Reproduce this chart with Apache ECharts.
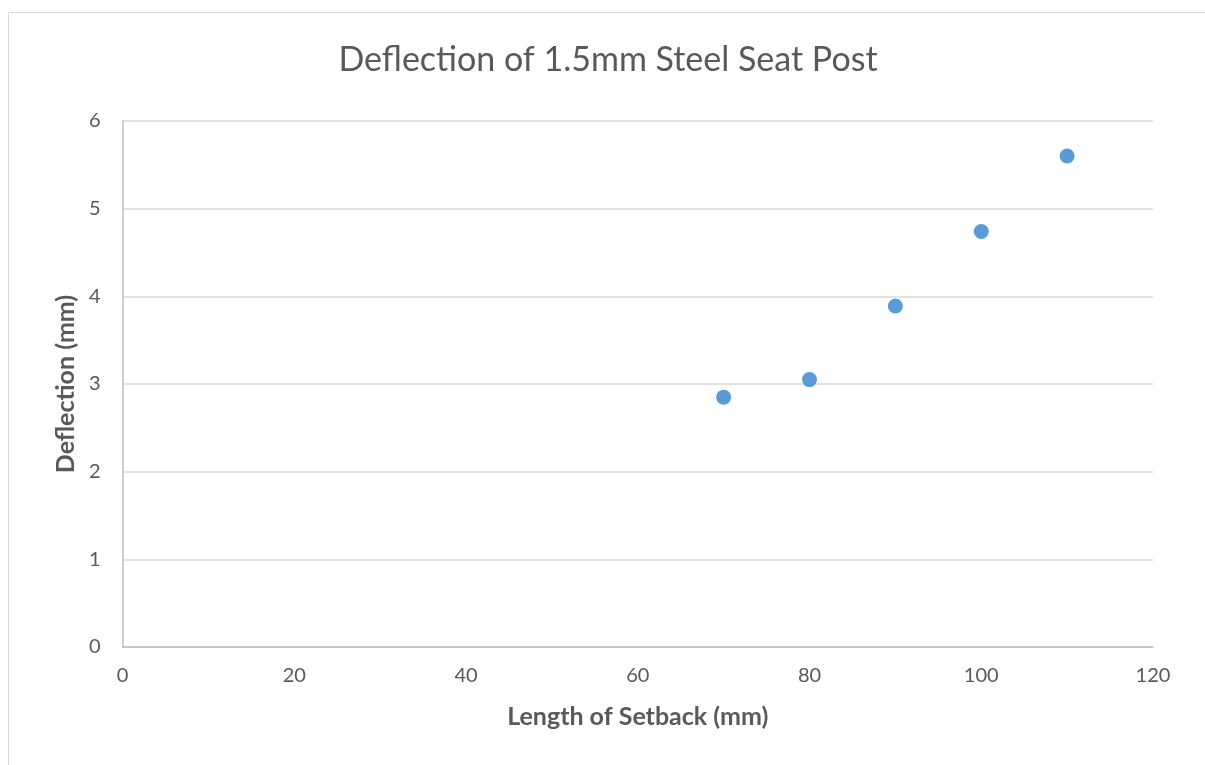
<!DOCTYPE html>
<html>
<head>
<meta charset="utf-8">
<script src="https://cdn.jsdelivr.net/npm/echarts@6/dist/echarts.min.js"></script>
<style>
html,body{margin:0;padding:0;background:#fff;}
#chart{width:1205px;height:765px;}
</style>
</head>
<body>
<div id="chart"></div>
<script>
const titleText = 'Deflection of 1.5mm Steel Seat Post';
const xAxisName = 'Length of Setback (mm)';
const yAxisName = 'Deflection (mm)';
const setbackLengths = [70, 80, 90, 100, 110];
const deflections = [2.85, 3.05, 3.89, 4.74, 5.60];

const chart = echarts.init(document.getElementById('chart'));
const font = 'Lato, "Open Sans", sans-serif';
chart.setOption({
  backgroundColor: '#ffffff',
  animation: false,
  title: {
    text: titleText,
    left: 603, top: 38, textAlign: 'center',
    textStyle: { fontFamily: font, fontSize: 34, fontWeight: 'normal', color: '#595959' }
  },
  graphic: [
    { type: 'line', shape: { x1: 8.5, y1: 12.5, x2: 1205, y2: 12.5 }, style: { stroke: '#d9d9d9', lineWidth: 1 } },
    { type: 'line', shape: { x1: 8.5, y1: 12.5, x2: 8.5, y2: 765 }, style: { stroke: '#d9d9d9', lineWidth: 1 } }
  ],
  grid: { left: 122.5, right: 52, top: 121, bottom: 118 },
  xAxis: {
    type: 'value', min: 0, max: 120, interval: 20,
    name: xAxisName, nameLocation: 'middle', nameGap: 57,
    nameTextStyle: { fontFamily: font, fontSize: 25, fontWeight: 'bold', color: '#595959' },
    axisLine: { show: true, onZero: false, lineStyle: { color: '#bfbfbf', width: 1.5 } },
    axisTick: { show: false },
    axisLabel: { fontFamily: font, fontSize: 20, color: '#595959', margin: 19 },
    splitLine: { show: false }
  },
  yAxis: {
    type: 'value', min: 0, max: 6, interval: 1,
    name: yAxisName, nameLocation: 'middle', nameGap: 43, nameRotate: 90,
    nameTextStyle: { fontFamily: font, fontSize: 25, fontWeight: 'bold', color: '#595959' },
    axisLine: { show: true, onZero: false, lineStyle: { color: '#bfbfbf', width: 1.5 } },
    axisTick: { show: false },
    axisLabel: { fontFamily: font, fontSize: 20, color: '#595959', margin: 22 },
    splitLine: { show: true, lineStyle: { color: '#d9d9d9', width: 1.5 } }
  },
  series: [{
    type: 'scatter',
    data: setbackLengths.map((x, i) => [x, deflections[i]]),
    symbol: 'circle', symbolSize: 15,
    itemStyle: { color: '#5b9bd5', opacity: 1 }
  }]
});
</script>
</body>
</html>
